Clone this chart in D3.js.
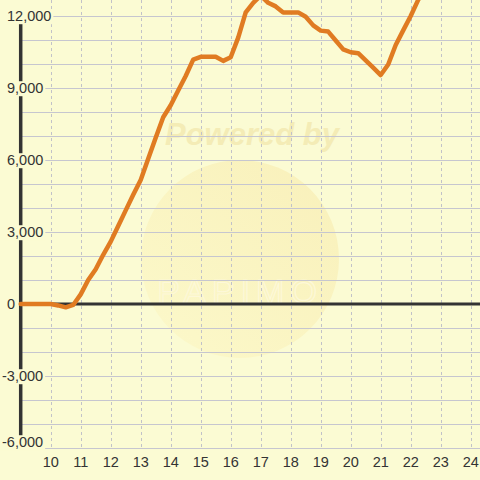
<!DOCTYPE html>
<html>
<head>
<meta charset="utf-8">
<script src="https://cdn.jsdelivr.net/npm/d3@7"></script>
<style>
  body { margin: 0; background: #fbfbd3; }
  svg { display: block; font-family: "Liberation Sans", Arial, sans-serif; }
</style>
</head>
<body>
<div id="chart"></div>
<script>
// data: hour of day and value every 15 min
var hours = [9, 9.25, 9.5, 9.75, 10, 10.25, 10.5, 10.75, 11, 11.25, 11.5, 11.75,
  12, 12.25, 12.5, 12.75, 13, 13.25, 13.5, 13.75, 14, 14.25, 14.5, 14.75,
  15, 15.25, 15.5, 15.75, 16, 16.25, 16.5, 16.75, 17, 17.25, 17.5, 17.75,
  18, 18.25, 18.5, 18.75, 19, 19.25, 19.5, 19.75, 20, 20.25, 20.5, 20.75,
  21, 21.25, 21.5, 21.75, 22, 22.25, 22.5];
var values = [0, 0, 0, 0, 0, -60, -140, -40, 400, 1000, 1450, 2050,
  2600, 3250, 3900, 4550, 5170, 6050, 6930, 7780, 8280, 8900, 9500, 10180,
  10300, 10300, 10300, 10130, 10280, 11100, 12150, 12550, 12850, 12550, 12400, 12150,
  12150, 12150, 11970, 11610, 11390, 11350, 10980, 10610, 10490, 10450, 10150, 9850,
  9540, 9980, 10790, 11400, 12000, 12670, 13300];

var xTicks = [10, 11, 12, 13, 14, 15, 16, 17, 18, 19, 20, 21, 22, 23, 24];
var yTicks = [-6000, -3000, 0, 3000, 6000, 9000, 12000];
var yGrid = d3.range(-6000, 12001, 1000);

var width = 480, height = 480;

var svg = d3.select("#chart")
  .append("svg")
  .attr("width", width)
  .attr("height", height);

// scales
var x = d3.scaleLinear().domain([9, 24]).range([20.7, 470.7]);
var y = d3.scaleLinear().domain([-6000, 12000]).range([448, 16]);

// snap thin lines onto the pixel grid
var px = function(v) { return Math.round(v) + 0.5 };

svg.append("rect")
  .attr("width", width).attr("height", height)
  .attr("fill", "#fbfbd3");

// faint watermark
var defs = svg.append("defs");
var grad = defs.append("linearGradient")
  .attr("id", "wm").attr("x1", "0").attr("y1", "1").attr("x2", "1").attr("y2", "0");
grad.append("stop").attr("offset", "0").attr("stop-color", "#fcf7c4");
grad.append("stop").attr("offset", "1").attr("stop-color", "#f7e9aa");

svg.append("circle")
  .attr("cx", 240).attr("cy", 259).attr("r", 99)
  .attr("fill", "url(#wm)")
  .attr("opacity", 0.6);

svg.append("text")
  .attr("x", 252).attr("y", 145)
  .attr("text-anchor", "middle")
  .style("font-size", "31px")
  .style("font-weight", "bold")
  .style("font-style", "italic")
  .attr("fill", "#f4ecb6")
  .text("Powered by");

svg.append("text")
  .attr("x", 240).attr("y", 303)
  .attr("text-anchor", "middle")
  .style("font-size", "34px")
  .style("letter-spacing", "6px")
  .attr("fill", "none")
  .attr("stroke", "#fdf8d8")
  .attr("stroke-width", 1.2)
  .text("PAPIMO");

// horizontal grid
svg.selectAll(".hgrid")
  .data(yGrid)
  .enter()
  .append("line")
    .attr("x1", 20).attr("x2", width)
    .attr("y1", function(d) { return px(y(d)) })
    .attr("y2", function(d) { return px(y(d)) })
    .attr("stroke", "#c6c6cf")
    .attr("stroke-width", 1);

// vertical dashed grid
svg.selectAll(".vgrid")
  .data(xTicks)
  .enter()
  .append("line")
    .attr("x1", function(d) { return px(x(d)) })
    .attr("x2", function(d) { return px(x(d)) })
    .attr("y1", 0).attr("y2", y(-6000))
    .attr("stroke", "#c2c2c8")
    .attr("stroke-width", 1)
    .attr("stroke-dasharray", "3,3");

// y axis and zero line
svg.append("line")
  .attr("x1", x(9)).attr("x2", x(9))
  .attr("y1", y(12000)).attr("y2", y(-6000))
  .attr("stroke", "#333").attr("stroke-width", 3.5);

svg.append("line")
  .attr("x1", x(9)).attr("x2", width)
  .attr("y1", y(0)).attr("y2", y(0))
  .attr("stroke", "#333").attr("stroke-width", 3);

// y labels with a background box that hides grid and axis
var fmt = d3.formatLocale({decimal: ".", thousands: ",", grouping: [3], currency: ["", ""], minus: "-"}).format(",");
var yl = svg.selectAll(".ylab")
  .data(yTicks)
  .enter()
  .append("g");

yl.append("text")
  .attr("x", function(d) { return d < 0 ? 2 : 7 })
  .attr("y", function(d) { return d == -6000 ? y(d) - 6 : y(d) })
  .attr("dy", "0.36em")
  .style("font-size", "14.5px")
  .attr("fill", "#333")
  .text(function(d) { return fmt(d) });

yl.each(function() {
  var g = d3.select(this);
  var b = g.select("text").node().getBBox();
  g.insert("rect", "text")
    .attr("x", b.x - 2).attr("y", b.y + 1)
    .attr("width", b.width + 4).attr("height", b.height - 1)
    .attr("fill", "#fbfbd3");
});

// x labels
svg.selectAll(".xlab")
  .data(xTicks)
  .enter()
  .append("text")
    .attr("x", function(d) { return x(d) })
    .attr("y", 467)
    .attr("text-anchor", "middle")
    .style("font-size", "14.5px")
    .attr("fill", "#333")
    .text(function(d) { return d });

// the series
var line = d3.line()
  .x(function(d, i) { return x(hours[i]) })
  .y(function(d) { return y(d) });

svg.append("path")
  .datum(values)
  .attr("d", line)
  .attr("fill", "none")
  .attr("stroke", "#e07b22")
  .attr("stroke-width", 4.5)
  .attr("stroke-linejoin", "round")
  .attr("stroke-linecap", "round");
</script>
</body>
</html>
